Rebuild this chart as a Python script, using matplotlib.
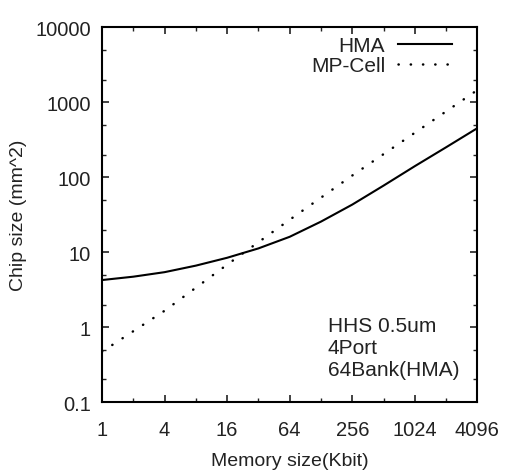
import numpy as np
import matplotlib
matplotlib.use("Agg")
import matplotlib.pyplot as plt
from matplotlib.ticker import FixedLocator, NullFormatter

plt.rcParams['font.family'] = ['Liberation Sans', 'DejaVu Sans']

# memory size (Kbit) and chip size (mm^2)
mem_hma = [1, 2, 4, 8, 16, 32, 64, 128, 256, 512, 1024, 2048, 4096]
chip_hma = [4.24, 4.7, 5.4, 6.6, 8.4, 11.2, 16.0, 25.5, 43, 77, 140, 250, 450]

mem_mp = [1, 4, 16, 64, 256, 1024, 4096]
chip_mp = [0.47, 1.65, 6.8, 27, 105, 390, 1450]

xticks = [1, 4, 16, 64, 256, 1024, 4096]
xminor = [2, 8, 32, 128, 512, 2048]
yticks = [0.1, 1, 10, 100, 1000, 10000]
ylabels = ["0.1", "1", "10", "100", "1000", "10000"]

fig = plt.figure(figsize=(5.25, 4.77), dpi=100)
ax = fig.add_axes([0.1943, 0.155, 0.715, 0.786])

ax.plot(mem_hma, chip_hma, color='black', lw=1.5, label='HMA')
ax.plot(mem_mp, chip_mp, color='black', lw=1.8, linestyle=(0, (0.1, 4.8)),
        dash_capstyle='round', label='MP-Cell')

ax.set_xscale('log', base=2)
ax.set_yscale('log')
ax.set_xlim(1, 4096)
ax.set_ylim(0.1, 10000)

ax.xaxis.set_major_locator(FixedLocator(xticks))
ax.set_xticklabels([str(v) for v in xticks])
ax.xaxis.set_minor_locator(FixedLocator(xminor))
ax.xaxis.set_minor_formatter(NullFormatter())

yminor = [d * m for d in [0.1, 1, 10, 100, 1000] for m in (2, 5)]
ax.yaxis.set_major_locator(FixedLocator(yticks))
ax.set_yticklabels(ylabels)
ax.yaxis.set_minor_locator(FixedLocator(yminor))
ax.yaxis.set_minor_formatter(NullFormatter())

ax.tick_params(which='both', direction='in', top=True, right=True, colors='#222')
ax.tick_params(which='major', length=5, width=1.2, labelsize=14.5)
ax.tick_params(which='minor', length=3, width=1.0)
ax.tick_params(axis='x', which='major', pad=13)
ax.tick_params(axis='y', which='major', pad=8)
for s in ax.spines.values():
    s.set_linewidth(1.5)

ax.set_xlabel('Memory size(Kbit)', fontsize=14, color='#222', labelpad=9)
ax.set_ylabel('Chip size (mm^2)', fontsize=14, color='#222', labelpad=6)

ax.legend(loc='upper right', bbox_to_anchor=(0.965, 1.01), frameon=False,
          markerfirst=False, fontsize=15, handlelength=2.6, handletextpad=0.6,
          borderaxespad=0.2, labelspacing=0.05, labelcolor='#222')

ax.text(0.602, 0.229, 'HHS 0.5um\n4Port\n64Bank(HMA)', transform=ax.transAxes,
        fontsize=15, color='#222', va='top', ha='left', linespacing=1.2)

fig.savefig('out.png', dpi=100)
